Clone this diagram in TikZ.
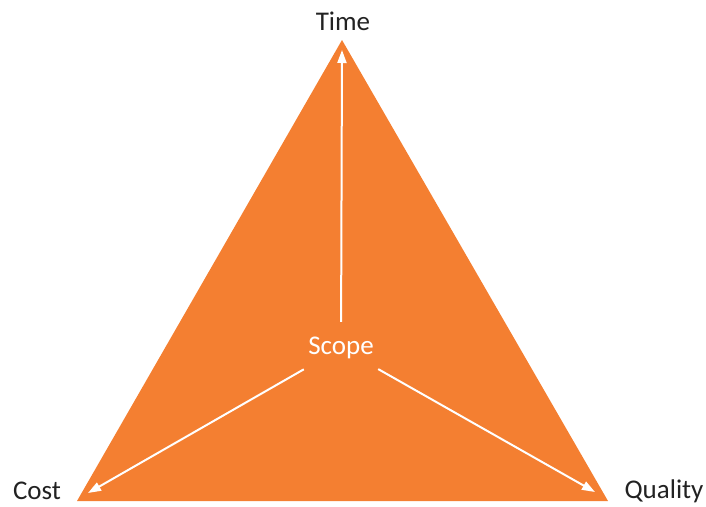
\documentclass[tikz,border=0pt]{standalone}
\usepackage{fontspec}
\setmainfont{Carlito}
\usepackage{xcolor}
\usetikzlibrary{arrows.meta}
\definecolor{scopeorange}{HTML}{F47F31}
\definecolor{labelgrey}{HTML}{222222}
\tikzset{
	corner/.style={text=labelgrey,font=\fontsize{27}{32}\selectfont},
	leg/.style={white,line width=2pt,-{Triangle[length=13pt,width=9pt]}}
}

\begin{document}
\begin{tikzpicture}[x=1pt,y=-1pt]
	\useasboundingbox (0,0) rectangle (706,506);
	
	\coordinate (apex) at (342,40);
	\coordinate (left) at (77,501);
	\coordinate (right) at (608,501);
	\fill[scopeorange] (apex)--(left)--(right)--cycle;
	
	\node[corner] (time) at (343,21) {Time};
	\node[corner] (cost) at (37,491) {Cost};
	\node[corner] (quality) at (664,491) {Quality};
	
	\node[text=white,font=\fontsize{27}{32}\selectfont,inner sep=0pt,
		minimum width=74,minimum height=52] (scope) at (341,348) {Scope};
	
	\coordinate (tipT) at (342,50);
	\coordinate (tipC) at (88,493);
	\coordinate (tipQ) at (595,492);
	\foreach \t in {tipT,tipC,tipQ}
		\draw[leg] (scope)--(\t);
\end{tikzpicture}
\end{document}
